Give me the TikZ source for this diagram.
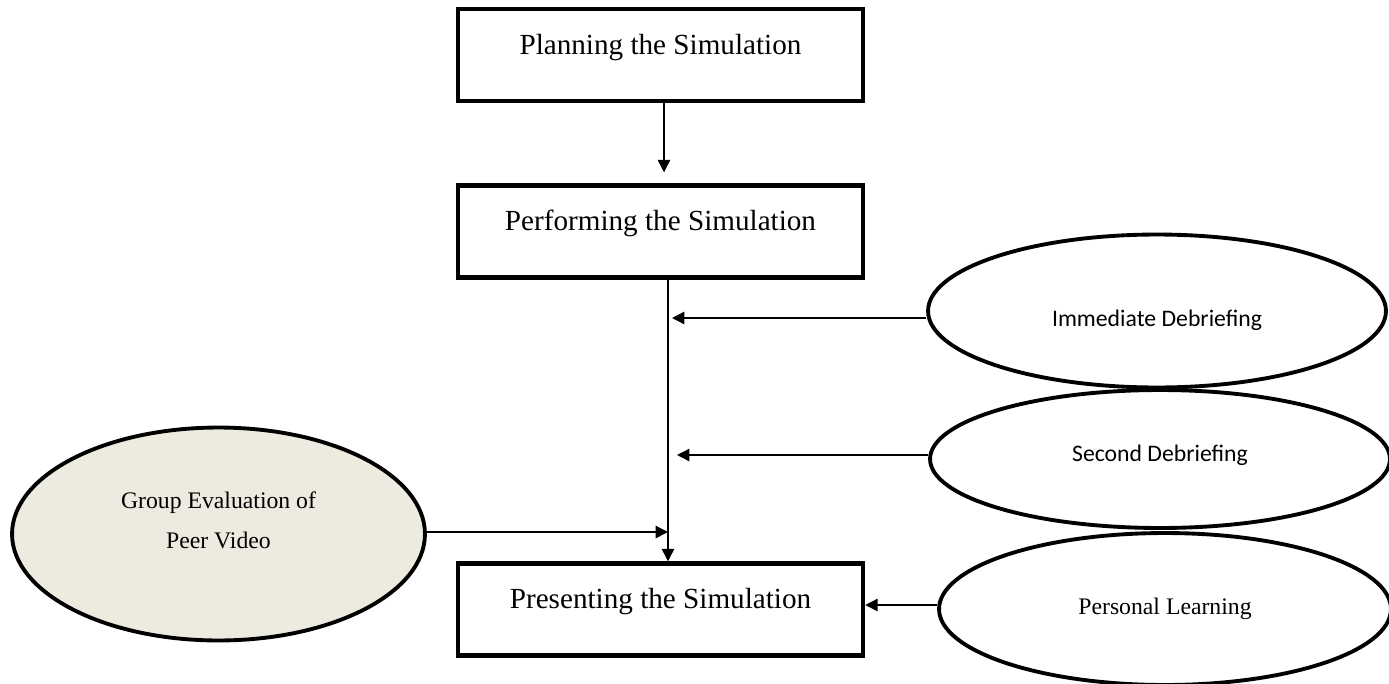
\documentclass[tikz,border=0pt]{standalone}
\usepackage{fontspec}
\setmainfont{Liberation Serif}
\newfontfamily\calibrifont{Carlito}
\usepackage{xcolor}
\usetikzlibrary{shapes.geometric, arrows.meta, positioning}
\definecolor{groupfill}{RGB}{237,235,224}

\begin{document}
\begin{tikzpicture}[
  x=0.02cm, y=-0.02cm,
  node distance=1.6cm,
  box/.style={rectangle, draw=black, line width=2.6pt, minimum width=8.1cm,
              inner ysep=0pt, text height=0.9cm, text depth=0.94cm,
              font=\fontsize{16.6}{20}\selectfont},
  oval/.style={ellipse, draw=black, line width=2.2pt, inner sep=0pt,
               align=center, font=\fontsize{13.5}{22.7}\selectfont},
  sansoval/.style={oval, font=\calibrifont\fontsize{13.5}{16}\selectfont},
  arrow/.style={->, >={Triangle[length=7pt,width=7pt]}, line width=0.8pt}
]
\useasboundingbox (0,0) rectangle (1389,683);

% Main steps
\node[box] (plan) at (660.5,55) {Planning the Simulation};
\node[box, below=of plan] (perform) {Performing the Simulation};
\node[box, below=5.63cm of perform] (present) {Presenting the Simulation};

% Feedback ovals
\node[sansoval, minimum width=9.16cm, minimum height=3.06cm,
      text height=0.7cm, text depth=0.1cm] (imm) at (1157,311)
      {Immediate Debriefing};
\node[sansoval, minimum width=9.2cm, minimum height=2.76cm,
      text height=0.34cm, text depth=0.26cm] (sec) at (1160,459)
      {Second Debriefing};
\node[oval, minimum width=9.04cm, minimum height=3.04cm] (pers) at (1165,609)
      {Personal Learning};
\node[oval, fill=groupfill, minimum width=8.26cm, minimum height=4.26cm] (grp)
      at (218.5,534) {Group Evaluation of\\Peer Video\rule[-0.56cm]{0pt}{0pt}};

% Trunk line
\coordinate (top) at ([xshift=0.15cm]perform.south);
\coordinate (bot) at ([xshift=0.15cm]present.north);

% Arrows
\draw[arrow, shorten >=0.22cm] ([xshift=0.07cm]plan.south)
      -- ([xshift=0.07cm]perform.north);
\draw[arrow] (top) -- (bot);
\draw[arrow, shorten >=0.08cm] ([yshift=-0.14cm]imm.west)
      -- ([yshift=-0.14cm]imm.west -| top);
\draw[arrow, shorten >=0.18cm] ([yshift=0.08cm]sec.west)
      -- ([yshift=0.08cm]sec.west -| top);
\draw[arrow] ([yshift=0.04cm]grp.east) -- ([yshift=0.04cm]grp.east -| top);
\draw[arrow] ([yshift=0.08cm]pers.west) -- ([yshift=0.08cm]pers.west -| present.east);
\end{tikzpicture}
\end{document}
